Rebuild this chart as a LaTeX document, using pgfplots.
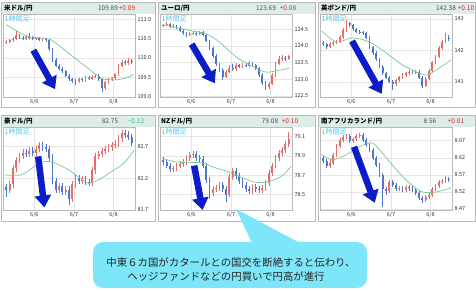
\documentclass[border=0pt]{standalone}
\usepackage{fontspec}
\setmainfont{Noto Sans CJK JP}
\usepackage{pgfplots}
\pgfplotsset{compat=1.18}
\usepackage{pgfplotstable}
\usetikzlibrary{arrows.meta}

\definecolor{mac}{RGB}{120,200,150}
\definecolor{arw}{RGB}{12,28,200}
\definecolor{tbar}{RGB}{222,236,234}
\definecolor{frm}{RGB}{185,185,185}
\definecolor{callout}{RGB}{125,230,248}
\definecolor{hourc}{RGB}{95,200,235}
\definecolor{plusc}{RGB}{225,40,40}
\definecolor{minusc}{RGB}{60,190,120}

\tikzset{bigarrow/.style={arw, line width=6.5pt, -{Triangle[width=16pt,length=12pt]}}}

% x o h l c  (x = hours from 6/6 00:00, 2-hour candles)
\pgfplotstableread{
x o h l c
-17 110.40 110.46 110.36 110.42
-15 110.42 110.49 110.38 110.45
-13 110.45 110.54 110.41 110.50
-11 110.50 110.70 110.46 110.58
-9 110.58 110.62 110.48 110.52
-7 110.52 110.56 110.46 110.50
-5 110.50 110.60 110.46 110.55
-3 110.55 110.64 110.48 110.52
-1 110.52 110.56 110.45 110.49
1 110.49 110.55 110.45 110.51
3 110.51 110.55 110.43 110.47
5 110.47 110.52 110.43 110.48
7 110.48 110.52 110.41 110.45
9 110.45 110.49 110.18 110.22
11 110.22 110.26 109.91 109.95
13 109.95 109.99 109.76 109.80
15 109.80 109.85 109.68 109.72
17 109.72 109.77 109.62 109.66
19 109.66 109.70 109.51 109.55
21 109.55 109.59 109.42 109.46
23 109.46 109.50 109.37 109.42
25 109.42 109.47 109.30 109.40
27 109.40 109.49 109.36 109.45
29 109.45 109.49 109.39 109.43
31 109.43 109.53 109.39 109.49
33 109.49 109.53 109.43 109.47
35 109.47 109.56 109.43 109.52
37 109.52 109.60 109.48 109.55
39 109.55 109.59 109.42 109.46
41 109.46 109.50 109.13 109.22
43 109.22 109.42 109.18 109.38
45 109.38 109.49 109.34 109.45
47 109.45 109.52 109.41 109.48
49 109.48 109.62 109.44 109.58
51 109.58 109.84 109.54 109.80
53 109.80 109.95 109.76 109.90
55 109.90 109.94 109.83 109.87
57 109.87 109.99 109.83 109.93
59 109.93 109.97 109.85 109.89
}\dA

\pgfplotstableread{
x o h l c
-17 124.58 124.66 124.55 124.62
-15 124.62 124.70 124.58 124.64
-13 124.64 124.67 124.54 124.58
-11 124.58 124.65 124.53 124.60
-9 124.60 124.63 124.50 124.54
-7 124.54 124.58 124.41 124.45
-5 124.45 124.50 124.33 124.38
-3 124.38 124.42 124.27 124.32
-1 124.32 124.41 124.29 124.36
1 124.36 124.44 124.33 124.39
3 124.39 124.43 124.30 124.35
5 124.35 124.45 124.32 124.40
7 124.40 124.43 124.28 124.32
9 124.32 124.35 124.10 124.15
11 124.15 124.18 123.86 123.92
13 123.92 123.96 123.64 123.70
15 123.70 123.75 123.40 123.45
17 123.45 123.50 123.22 123.28
19 123.28 123.33 122.98 123.08
21 123.08 123.28 123.03 123.22
23 123.22 123.42 123.18 123.35
25 123.35 123.45 123.25 123.30
27 123.30 123.48 123.26 123.42
29 123.42 123.47 123.33 123.38
31 123.38 123.49 123.34 123.43
33 123.43 123.50 123.36 123.40
35 123.40 123.54 123.37 123.48
37 123.48 123.52 123.38 123.42
39 123.42 123.45 123.28 123.33
41 123.33 123.36 123.08 123.14
43 123.14 123.18 122.84 122.90
45 122.90 122.94 122.67 122.76
47 122.76 122.92 122.72 122.86
49 122.86 123.18 122.83 123.12
51 123.12 123.52 123.08 123.45
53 123.45 123.68 123.42 123.60
55 123.60 123.72 123.56 123.64
57 123.64 123.70 123.55 123.60
59 123.60 123.73 123.57 123.69
}\dB

\pgfplotstableread{
x o h l c
-17 142.25 142.30 142.15 142.20
-15 142.20 142.24 142.06 142.12
-13 142.12 142.26 142.08 142.20
-11 142.20 142.30 142.15 142.24
-9 142.24 142.34 142.19 142.28
-7 142.28 142.48 142.23 142.42
-5 142.42 142.71 142.37 142.65
-3 142.65 142.97 142.60 142.88
-1 142.88 142.92 142.74 142.80
1 142.80 142.85 142.63 142.68
3 142.68 142.73 142.55 142.60
5 142.60 142.66 142.53 142.58
7 142.58 142.63 142.49 142.54
9 142.54 142.59 142.35 142.40
11 142.40 142.45 142.04 142.10
13 142.10 142.15 141.87 141.92
15 141.92 141.97 141.67 141.72
17 141.72 141.77 141.43 141.48
19 141.48 141.53 141.23 141.28
21 141.28 141.33 141.09 141.14
23 141.14 141.19 140.95 141.00
25 141.00 141.05 140.75 140.92
27 140.92 141.10 140.87 141.05
29 141.05 141.20 141.00 141.15
31 141.15 141.27 141.10 141.22
33 141.22 141.33 141.17 141.28
35 141.28 141.38 141.23 141.32
37 141.32 141.37 141.25 141.30
39 141.30 141.38 141.25 141.33
41 141.33 141.38 141.09 141.14
43 141.14 141.19 140.80 140.88
45 140.88 141.15 140.83 141.10
47 141.10 141.40 141.05 141.35
49 141.35 141.67 141.30 141.62
51 141.62 141.85 141.57 141.80
53 141.80 142.13 141.75 142.08
55 142.08 142.33 142.03 142.28
57 142.28 142.56 142.23 142.40
59 142.40 142.48 142.30 142.38
}\dC

\pgfplotstableread{
x o h l c
-17 82.06 82.10 81.90 82.02
-15 82.02 82.15 81.97 82.10
-13 82.10 82.40 82.05 82.35
-11 82.35 82.53 82.30 82.48
-9 82.48 82.60 82.43 82.55
-7 82.55 82.65 82.50 82.60
-5 82.60 82.65 82.53 82.58
-3 82.58 82.68 82.53 82.63
-1 82.63 82.68 82.55 82.60
1 82.60 82.71 82.55 82.66
3 82.66 82.77 82.61 82.72
5 82.72 82.77 82.63 82.68
7 82.68 82.73 82.61 82.66
9 82.66 82.71 82.47 82.52
11 82.52 82.57 82.10 82.15
13 82.15 82.20 81.97 82.02
15 82.02 82.13 81.97 82.08
17 82.08 82.13 81.93 81.98
19 81.98 82.07 81.93 82.02
21 82.02 82.07 81.78 81.88
23 81.88 82.15 81.83 82.10
25 82.10 82.25 82.05 82.20
27 82.20 82.25 82.11 82.16
29 82.16 82.23 82.11 82.18
31 82.18 82.23 82.09 82.14
33 82.14 82.19 82.07 82.12
35 82.12 82.37 82.07 82.32
37 82.32 82.60 82.27 82.55
39 82.55 82.63 82.50 82.58
41 82.58 82.67 82.53 82.62
43 82.62 82.71 82.57 82.66
45 82.66 82.73 82.61 82.68
47 82.68 82.77 82.63 82.72
49 82.72 82.79 82.67 82.74
51 82.74 82.87 82.69 82.82
53 82.82 82.95 82.77 82.90
55 82.90 82.95 82.83 82.88
57 82.88 82.93 82.79 82.84
59 82.84 82.89 82.70 82.75
}\dD

\pgfplotstableread{
x o h l c
-17 78.86 78.89 78.81 78.84
-15 78.84 78.87 78.77 78.80
-13 78.80 78.83 78.73 78.76
-11 78.76 78.80 78.73 78.77
-9 78.77 78.83 78.74 78.80
-7 78.80 78.85 78.77 78.82
-5 78.82 78.87 78.79 78.84
-3 78.84 78.91 78.81 78.88
-1 78.88 78.94 78.85 78.91
1 78.91 78.95 78.88 78.92
3 78.92 78.95 78.85 78.88
5 78.88 78.91 78.84 78.87
7 78.87 78.90 78.77 78.80
9 78.80 78.83 78.62 78.65
11 78.65 78.68 78.45 78.52
13 78.52 78.59 78.49 78.56
15 78.56 78.60 78.53 78.57
17 78.57 78.63 78.54 78.60
19 78.60 78.63 78.53 78.56
21 78.56 78.59 78.42 78.50
23 78.50 78.71 78.47 78.68
25 78.68 78.77 78.65 78.74
27 78.74 78.77 78.66 78.69
29 78.69 78.72 78.61 78.64
31 78.64 78.67 78.57 78.60
33 78.60 78.63 78.53 78.56
35 78.56 78.59 78.51 78.54
37 78.54 78.61 78.51 78.58
39 78.58 78.61 78.53 78.56
41 78.56 78.59 78.52 78.55
43 78.55 78.60 78.52 78.57
45 78.57 78.65 78.54 78.62
47 78.62 78.75 78.59 78.72
49 78.72 78.83 78.69 78.80
51 78.80 78.91 78.77 78.88
53 78.88 78.96 78.85 78.93
55 78.93 78.99 78.90 78.96
57 78.96 79.05 78.93 79.02
59 79.02 79.15 78.99 79.08
}\dE

\pgfplotstableread{
x o h l c
-17 8.620 8.626 8.604 8.610
-15 8.610 8.616 8.591 8.597
-13 8.597 8.612 8.591 8.606
-11 8.606 8.634 8.600 8.628
-9 8.628 8.661 8.622 8.655
-7 8.655 8.678 8.649 8.672
-5 8.672 8.686 8.666 8.680
-3 8.680 8.690 8.674 8.684
-1 8.684 8.690 8.664 8.670
1 8.670 8.682 8.664 8.676
3 8.676 8.690 8.670 8.684
5 8.684 8.692 8.678 8.686
7 8.686 8.692 8.666 8.672
9 8.672 8.678 8.652 8.658
11 8.658 8.664 8.636 8.642
13 8.642 8.648 8.614 8.620
15 8.620 8.626 8.592 8.598
17 8.598 8.604 8.564 8.570
19 8.570 8.576 8.476 8.528
21 8.528 8.534 8.510 8.522
23 8.522 8.554 8.516 8.548
25 8.548 8.554 8.534 8.540
27 8.540 8.546 8.522 8.528
29 8.528 8.538 8.522 8.532
31 8.532 8.538 8.520 8.526
33 8.526 8.540 8.520 8.534
35 8.534 8.540 8.524 8.530
37 8.530 8.536 8.520 8.526
39 8.526 8.532 8.512 8.518
41 8.518 8.524 8.497 8.503
43 8.503 8.509 8.488 8.497
45 8.497 8.511 8.491 8.505
47 8.505 8.518 8.499 8.512
49 8.512 8.534 8.506 8.528
51 8.528 8.544 8.522 8.538
53 8.538 8.554 8.532 8.548
55 8.548 8.558 8.542 8.552
57 8.552 8.566 8.546 8.558
59 8.558 8.564 8.548 8.556
}\dF

\newcommand{\candles}[1]{%
  \addplot[mark=none, line width=0.45pt, point meta=explicit,
    quiver={u=0, v=\thisrow{h}-\thisrow{l}, colored}]
    table[x=x, y=l, meta expr={\thisrow{c}>=\thisrow{o}}] {#1};
  \addplot[mark=none, line width=1.8pt, point meta=explicit,
    quiver={u=0, v=abs(\thisrow{c}-\thisrow{o}), colored}]
    table[x=x, y expr={min(\thisrow{o},\thisrow{c})}, meta expr={\thisrow{c}>=\thisrow{o}}] {#1};
}

\pgfplotsset{
  fx/.style={
    scale only axis, width=132pt, height=83pt, anchor=south west,
    xmin=-19, xmax=61, xtick={0,24,48}, xticklabels={6/6,6/7,6/8},
    axis line style={draw=frm, line width=0.5pt},
    major tick length=0pt,
    xmajorgrids, ymajorgrids,
    major grid style={draw=black!10, line width=0.4pt},
    yticklabel pos=right,
    tick label style={font=\fontsize{5.5}{6}\selectfont, text=black!80},
    yticklabel style={xshift=-1pt},
    xticklabel style={yshift=1pt},
    colormap={cndl}{rgb255(0cm)=(80,120,200) rgb255(1cm)=(230,110,105)},
    point meta min=0, point meta max=1,
    clip=false,
    /pgf/number format/assume math mode=true,
  },
  prec/.style={yticklabel style={/pgf/number format/.cd, fixed, fixed zerofill, precision=#1}},
}

\newcommand{\ttl}{\fontsize{6.5}{7}\selectfont\bfseries}
\newcommand{\vfnt}{\fontsize{6.5}{7}\selectfont}
\newcommand{\hfnt}{\fontsize{7}{8}\selectfont}

\newcommand{\panelframe}[6]{% left right bottom top title-left-x title
  \begin{scope}[x=1pt,y=1pt]
  \fill[white] (#1,#3) rectangle (#2,#4);
  \fill[tbar] (#1,#4-12) rectangle (#2,#4);
  \draw[frm, line width=0.5pt] (#1,#3) rectangle (#2,#4);
  \node[anchor=west, inner sep=0pt, font=\ttl] at (#5,#4-6) {#6};
  \end{scope}
}

\begin{document}
\begin{tikzpicture}
\useasboundingbox (0pt,0pt) rectangle (476pt,291pt);

% ---------- frames and title bars ----------
\panelframe{1}{155}{184}{289}{4}{米ドル/円}
\panelframe{158}{315}{184}{289}{161}{ユーロ/円}
\panelframe{318}{475}{184}{289}{321}{英ポンド/円}
\panelframe{1}{155}{70}{176}{4}{豪ドル/円}
\panelframe{158}{315}{70}{176}{161}{NZドル/円}
\panelframe{318}{475}{70}{176}{321}{南アフリカランド/円}

\node[font=\vfnt, text=black!70] at (108pt,283pt) {109.89};
\node[font=\vfnt, text=plusc] at (127pt,283pt) {+0.09};
\node[font=\vfnt, text=black!70] at (266pt,283pt) {123.69};
\node[font=\vfnt, text=plusc] at (288pt,283pt) {+0.08};
\node[font=\vfnt, text=black!70] at (446pt,283pt) {142.38};
\node[font=\vfnt, text=plusc] at (466pt,283pt) {+0.10};
\node[font=\vfnt, text=black!70] at (110pt,170pt) {82.75};
\node[font=\vfnt, text=minusc] at (136pt,170pt) {−0.12};
\node[font=\vfnt, text=black!70] at (270pt,170pt) {79.08};
\node[font=\vfnt, text=plusc] at (290pt,170pt) {+0.10};
\node[font=\vfnt, text=black!70] at (430pt,170pt) {8.56};
\node[font=\vfnt, text=plusc] at (456pt,170pt) {+0.01};

% ---------- USD/JPY ----------
\begin{axis}[fx, prec=1, at={(3pt,194pt)},
  ymin=109.0, ymax=111.13, ytick={109,109.5,110,110.5,111}]
\candles{\dA}
\addplot[smooth, mac, line width=0.7pt] coordinates {(-17,110.85) (-10,110.68) (-3,110.54) (8,110.50) (14,110.35) (20,110.15) (30,109.82) (38,109.56) (42,109.46) (50,109.44) (56,109.50) (60,109.58)};
\draw[bigarrow] (-0.6,110.2) -- (12.6,109.2);
\end{axis}

% ---------- EUR/JPY ----------
\begin{axis}[fx, prec=1, at={(160pt,194pt)},
  ymin=122.47, ymax=124.95, ytick={122.5,123,123.5,124,124.5}]
\candles{\dB}
\addplot[smooth, mac, line width=0.7pt] coordinates {(-18,124.62) (-10,124.56) (-2.4,124.47) (7.7,124.38) (13,124.25) (17.8,124.08) (27.3,123.66) (35.6,123.42) (41.5,123.27) (46.2,123.21) (53.3,123.27) (59.3,123.33)};
\draw[bigarrow] (0.2,124.05) -- (14.2,122.88);
\end{axis}

% ---------- GBP/JPY ----------
\begin{axis}[fx, prec=0, at={(320pt,194pt)},
  ymin=140.52, ymax=143.16, ytick={141,142,143}]
\candles{\dC}
\addplot[smooth, mac, line width=0.7pt] coordinates {(-18,142.62) (-9.1,142.27) (0.6,142.40) (10.9,142.27) (21.2,141.92) (30.9,141.54) (39.4,141.32) (45.5,141.22) (51.5,141.38) (60.5,141.70)};
\draw[bigarrow] (0.4,142.3) -- (18.4,140.62);
\end{axis}

% ---------- AUD/JPY ----------
\begin{axis}[fx, prec=1, at={(3pt,81pt)},
  ymin=81.7, ymax=83.0, ytick={81.7,82.2,82.7}]
\candles{\dD}
\addplot[smooth, mac, line width=0.7pt] coordinates {(-18,82.25) (-8,82.25) (0,82.38) (6,82.46) (12,82.44) (20.6,82.33) (26.7,82.22) (32.7,82.12) (38.8,82.17) (46.7,82.30) (54.5,82.44) (60.5,82.64)};
\draw[bigarrow] (2.3,82.54) -- (6.1,81.74);
\end{axis}

% ---------- NZD/JPY ----------
\begin{axis}[fx, prec=1, at={(160pt,81pt)},
  ymin=78.34, ymax=79.2, ytick={78.5,78.7,78.9,79.1}]
\candles{\dE}
\addplot[smooth, mac, line width=0.7pt] coordinates {(-18,78.88) (-10.3,78.84) (-2.4,78.83) (6.1,78.83) (13.9,78.78) (21.8,78.74) (30.3,78.68) (38.2,78.63) (46.1,78.63) (54.5,78.69) (60.5,78.79)};
\draw[bigarrow] (1.7,78.8) -- (6.8,78.34);
\end{axis}

% ---------- ZAR/JPY ----------
\begin{axis}[fx, prec=2, at={(320pt,81pt)},
  ymin=8.467, ymax=8.71, ytick={8.47,8.52,8.57,8.62,8.67}]
\candles{\dF}
\addplot[smooth, mac, line width=0.7pt] coordinates {(-18,8.629) (-11.5,8.614) (-3,8.629) (4.8,8.652) (12.1,8.664) (17,8.644) (27.3,8.585) (35.2,8.546) (43,8.52) (51.5,8.52) (60.5,8.532)};
\draw[bigarrow] (1.6,8.652) -- (14.2,8.488);
\end{axis}

% ---------- "1時間足" labels ----------
\foreach \px/\py in {4/276, 161/276, 321/276, 4/163, 161/163, 321/163}{
  \node[anchor=north west, inner sep=0.5pt, font=\hfnt, text=hourc] at (\px pt,\py pt) {1時間足};
}

% ---------- callout ----------
\fill[callout] (236pt,82pt) -- (252pt,48pt) -- (300pt,48pt) -- cycle;
\fill[callout, rounded corners=10pt] (93pt,3pt) rectangle (367pt,49pt);
\node[font=\fontsize{10.4}{12}\selectfont, text=black!85] at (231pt,28pt) {中東６カ国がカタールとの国交を断絶すると伝わり、};
\node[font=\fontsize{10.4}{12}\selectfont, text=black!85] at (226pt,14pt) {ヘッジファンドなどの円買いで円高が進行};
\end{tikzpicture}
\end{document}
